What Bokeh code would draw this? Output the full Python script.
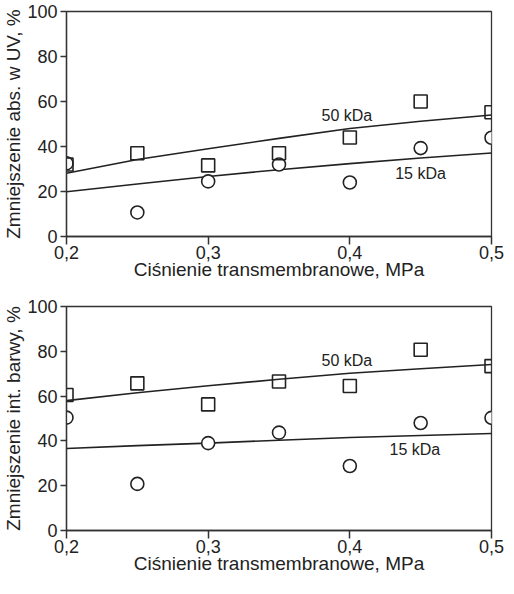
from bokeh.plotting import figure
from bokeh.layouts import column
from bokeh.models import FixedTicker, Range1d, Label
from bokeh.embed import file_html
from bokeh.resources import INLINE

x = [0.2, 0.25, 0.3, 0.35, 0.4, 0.45, 0.5]
x_ticks = [0.2, 0.3, 0.4, 0.5]
x_tick_labels = ["0,2", "0,3", "0,4", "0,5"]
y_ticks = [0, 20, 40, 60, 80, 100]

# Top chart: Zmniejszenie abs. w UV, %
uv_50_points = [32, 37, 31.6, 37, 44, 60, 55.2]
uv_15_points = [32.5, 10.7, 24.5, 32, 24, 39.3, 43.9]
uv_50_fit = [28.1, 34.2, 39, 43.6, 48, 51.2, 54]
uv_15_fit = [19.9, 23.3, 26.7, 29.7, 32.4, 34.9, 37.1]

# Bottom chart: Zmniejszenie int. barwy, %
col_50_points = [60.5, 65.7, 56.3, 66.5, 64.5, 80.7, 73.4]
col_15_points = [50.4, 20.8, 39, 43.7, 28.8, 48, 50.3]
col_50_fit = [58, 61.5, 64.6, 67.5, 70.2, 72.2, 74.1]
col_15_fit = [36.6, 37.9, 39, 40.3, 41.5, 42.4, 43.3]

xlabel = "Ciśnienie transmembranowe, MPa"
ylabel_top = "Zmniejszenie abs. w UV, %"
ylabel_bot = "Zmniejszenie int. barwy, %"

FONT = "Liberation Sans"
INK = "#222222"


def make(ylab, p50, p15, f50, f15, lab50, lab15, h, bt, bb):
    p = figure(width=504, height=h, output_backend="svg",
               toolbar_location=None,
               x_range=Range1d(0.2, 0.5), y_range=Range1d(0, 100),
               min_border_left=64, min_border_right=13,
               min_border_top=bt, min_border_bottom=bb)
    p.grid.visible = False
    p.outline_line_color = "#333333"
    p.outline_line_width = 1.3
    p.background_fill_color = "white"
    p.border_fill_color = "white"
    for ax in (p.xaxis, p.yaxis):
        ax.axis_line_color = "#333333"
        ax.axis_line_width = 1.3
        ax.major_tick_line_color = "#333333"
        ax.major_tick_line_width = 1.5
        ax.minor_tick_line_color = None
        ax.major_tick_in = 0
        ax.major_label_text_font = FONT
        ax.major_label_text_font_size = "18px"
        ax.major_label_text_color = INK
        ax.axis_label_text_font = FONT
        ax.axis_label_text_font_size = "19px"
        ax.axis_label_text_font_style = "normal"
        ax.axis_label_text_color = INK
    p.xaxis.ticker = FixedTicker(ticks=x_ticks)
    p.xaxis.major_label_overrides = {t: l for t, l in zip(x_ticks, x_tick_labels)}
    p.xaxis.major_tick_out = 8
    p.xaxis.major_label_standoff = 1
    p.xaxis.axis_label = xlabel
    p.xaxis.axis_label_standoff = -3
    p.yaxis.ticker = FixedTicker(ticks=y_ticks)
    p.yaxis.major_tick_out = 6
    p.yaxis.major_label_standoff = 3
    p.yaxis.axis_label = ylab
    p.yaxis.axis_label_standoff = 0

    p.line(x, f50, line_color=INK, line_width=1.6)
    p.line(x, f15, line_color=INK, line_width=1.6)
    p.scatter(x, p15, marker="circle", size=13, fill_color="white",
              line_color=INK, line_width=1.6)
    p.scatter(x, p50, marker="square", size=13, fill_color=None,
              line_color=INK, line_width=1.6)
    p.add_layout(Label(x=lab50[0], y=lab50[1], text="50 kDa", text_font=FONT,
                       text_font_size="16px", text_color=INK,
                       text_baseline="middle"))
    p.add_layout(Label(x=lab15[0], y=lab15[1], text="15 kDa", text_font=FONT,
                       text_font_size="16px", text_color=INK,
                       text_baseline="middle"))
    return p


p1 = make(ylabel_top, uv_50_points, uv_15_points, uv_50_fit, uv_15_fit,
          (0.38, 54), (0.432, 28), 284, 11, 48)
p2 = make(ylabel_bot, col_50_points, col_15_points, col_50_fit, col_15_fit,
          (0.38, 76), (0.428, 36), 294, 22, 48)

layout = column(p1, p2, spacing=0)
open("out.html", "w").write(file_html(layout, INLINE))
